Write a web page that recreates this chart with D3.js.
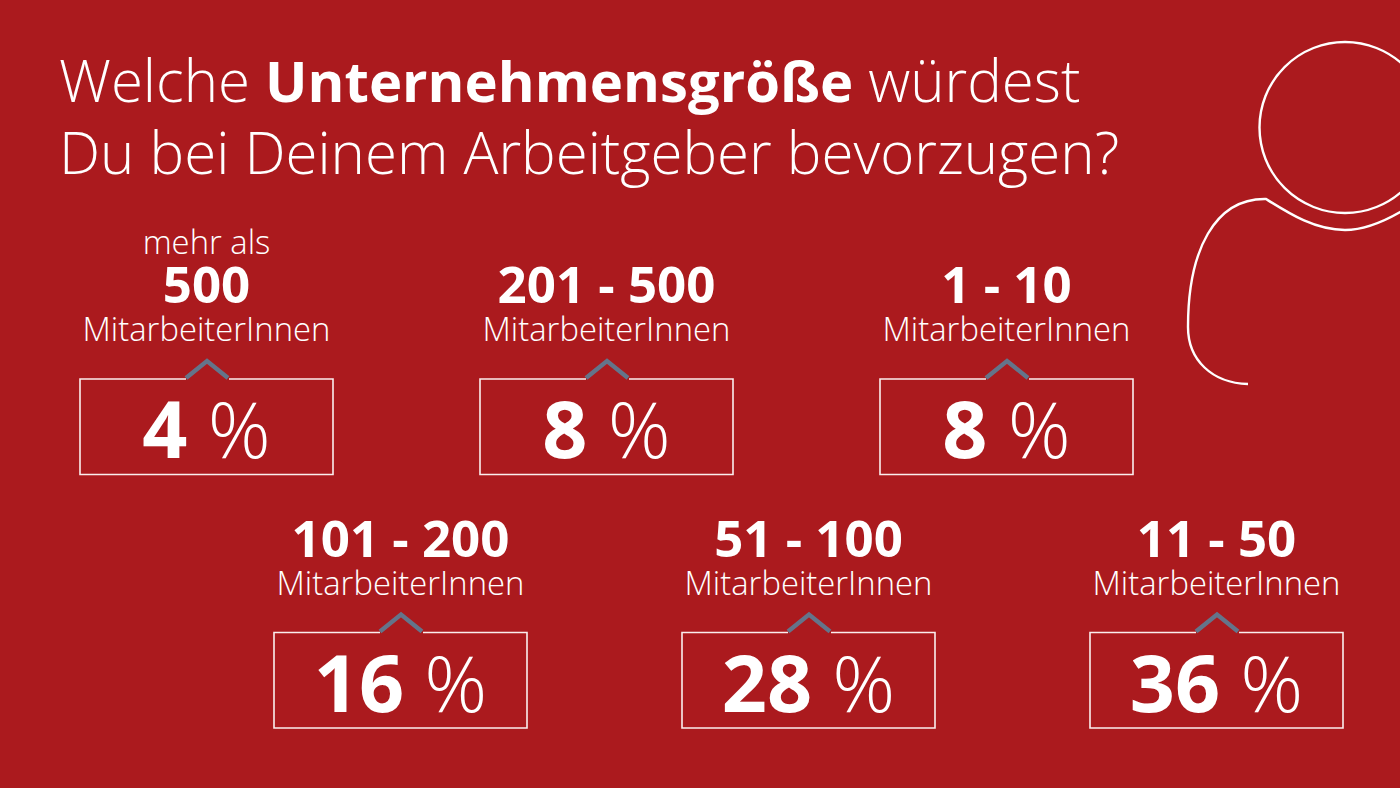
<!DOCTYPE html>
<html>
<head>
<meta charset="utf-8">
<script src="https://cdn.jsdelivr.net/npm/d3@7"></script>
<style>
html, body { margin: 0; padding: 0; background: #ab1a1e; overflow: hidden; }
text { font-family: "Open Sans", sans-serif; fill: #fff; }
</style>
</head>
<body>
<div class="graphics"></div>
<script>
// data, in reading order of the picture
var row1Labels = ["201 - 500", "1 - 10"];
var row2Labels = ["101 - 200", "51 - 100", "11 - 50"];
var topLabel = "500";
var topPrefix = "mehr als";
var unitLabel = "MitarbeiterInnen";
var topValue = [4];
var row1Values = [8, 8];
var row2Values = [16, 28, 36];

var width = 1400, height = 788;

var svg = d3.select(".graphics")
    .append("svg")
    .attr("width", width)
    .attr("height", height)
    .style("display", "block");

svg.append("rect")
    .attr("width", width)
    .attr("height", height)
    .attr("fill", "#ab1a1e");

// title
var title = svg.append("text").attr("font-size", 58.2).attr("font-weight", 300);
var t1 = title.append("tspan").attr("x", 59).attr("y", 102);
t1.append("tspan").text("Welche ");
t1.append("tspan").attr("font-weight", 700).attr("font-size", 56.2).text("Unternehmensgröße");
t1.append("tspan").text(" würdest");
title.append("tspan").attr("x", 59).attr("y", 174).text("Du bei Deinem Arbeitgeber bevorzugen?");

// person outline at top right
svg.append("circle")
    .attr("cx", 1345).attr("cy", 127.5).attr("r", 85.5)
    .attr("fill", "none").attr("stroke", "#fff").attr("stroke-width", 2.4);
svg.append("path")
    .attr("d", "M1248,384 C1212,383 1188,360 1188,327 C1188,250 1215,198 1266,199 C1290,214 1315,230 1345,230 C1365,230 1385,221 1402,211")
    .attr("fill", "none").attr("stroke", "#fff").attr("stroke-width", 2.4);

// one card per category
var rows = [
    { labels: [topLabel].concat(row1Labels), values: topValue.concat(row1Values), x0: 80, x1: 880, top: 379 },
    { labels: row2Labels, values: row2Values, x0: 274, x1: 1090, top: 632.5 }
];

var boxW = 253, boxH = 95.5;

rows.forEach(function(row) {
    var x = d3.scalePoint().domain(row.labels).range([row.x0, row.x1]);

    var card = svg.selectAll(null)
        .data(row.labels.map(function(l, i) { return { label: l, value: row.values[i] }; }))
        .enter()
        .append("g")
        .attr("transform", function(d) { return "translate(" + x(d.label) + "," + row.top + ")"; });

    // box with the gap for the caret
    card.append("path")
        .attr("d", "M106,0 H0 V" + boxH + " H" + boxW + " V0 H149")
        .attr("fill", "none").attr("stroke", "#fbeeee").attr("stroke-width", 1.6);

    card.append("path")
        .attr("d", "M106,-1 L127,-18 L148,-1")
        .attr("fill", "none").attr("stroke", "#64748a").attr("stroke-width", 4.4);

    card.append("text")
        .attr("x", boxW / 2).attr("y", -76)
        .attr("text-anchor", "middle")
        .attr("font-size", 51).attr("font-weight", 700)
        .text(function(d) { return d.label; });

    card.append("text")
        .attr("x", boxW / 2).attr("y", -38)
        .attr("text-anchor", "middle")
        .attr("font-size", 32.8).attr("font-weight", 300)
        .text(unitLabel);

    var val = card.append("text")
        .attr("x", boxW / 2).attr("y", 79)
        .attr("text-anchor", "middle")
        .attr("font-size", 78);
    val.append("tspan").attr("font-weight", 700).attr("font-size", 79).text(function(d) { return d.value; });
    val.append("tspan").attr("font-weight", 300).text(" %");
});

// extra line above the first card
svg.append("text")
    .attr("x", 206.5).attr("y", 254)
    .attr("text-anchor", "middle")
    .attr("font-size", 32.8).attr("font-weight", 300)
    .text(topPrefix);
</script>
</body>
</html>
